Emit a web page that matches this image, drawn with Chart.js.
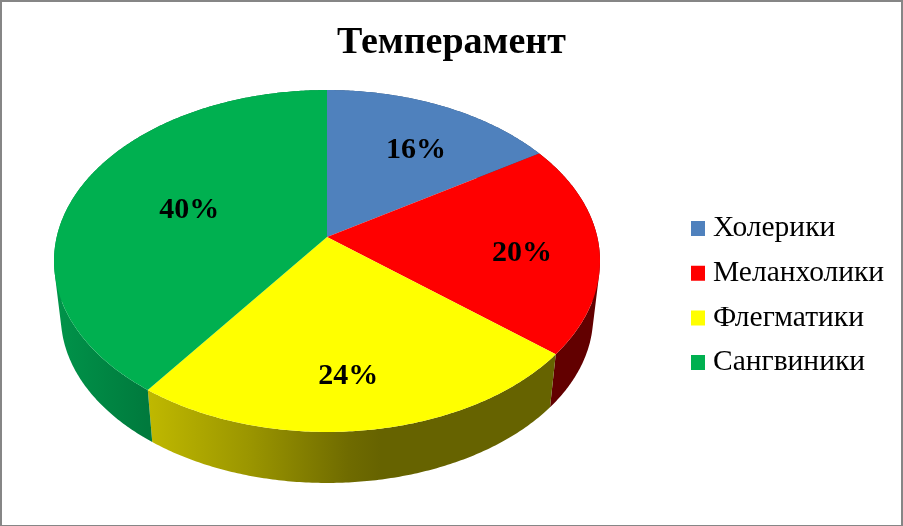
<!DOCTYPE html>
<html>
<head>
<meta charset="utf-8">
<script src="https://cdn.jsdelivr.net/npm/chart.js@4"></script>
<style>
	body { margin:0; background:#fff; }
	canvas { position:absolute; left:0; top:0; }
	.frame { position:absolute; left:0; top:0; width:903px; height:526px; box-sizing:border-box;
		border:2px solid #868686; border-bottom-width:1px; }
</style>
</head>
<body>
<canvas id="myChart" width="903" height="526"></canvas>
<div class="frame"></div>
<script>
// --------------------- data ------------------ //
const categories = ['Холерики', 'Меланхолики', 'Флегматики', 'Сангвиники'];
const shares = [16, 20, 24, 40];
const colors = ['#4F81BD', '#FF0000', '#FFFF00', '#00B050'];

// side wall shades : offset along the pie width , colour
const wallShades = [
	[[0, '#2f4d71'], [1, '#2f4d71']],
	[[0, '#620000'], [1, '#620000']],
	[[0.17, '#c0b900'], [0.36, '#9a9500'], [0.54, '#6f6b00'], [0.6, '#666300'], [1, '#666300']],
	[[0, '#00944a'], [0.17, '#007a3d']]
];

// label offset from the 0.7 radius point , px
const labelNudge = [[5, 8], [5, 9], [-5, 10], [37, 8]];

// --------------------- perspective ------------------ //
const tilt = -0.14035;		// perspective divide
const stretchX = 1.8388;	// circle radius -> screen
const stretchY = 1.14;
const wallDrop = 55.9;		// floor of the pie sits lower ...
const wallScale = 0.975;	// ... and a bit smaller

function project(el, angle, f){
	let u = Math.cos(angle) * f;
	let v = Math.sin(angle) * f;
	let w = 1 + tilt * v;
	return {
		x : el.x + el.outerRadius * stretchX * u / w,
		y : el.y + el.outerRadius * stretchY * v / w
	};
}

function arcPoints(el){
	let pts = [];
	let n = Math.ceil((el.endAngle - el.startAngle) / 0.01);
	for (let i = 0; i <= n; i++){
		pts.push(project(el, el.startAngle + (el.endAngle - el.startAngle) * i / n, 1));
	}
	return pts;
}

// quad added to the current path , always wound the same way so the nonzero fill has no holes
function addQuad(ctx, q){
	let area = 0;
	q.forEach((p, i) => {
		let n = q[(i + 1) % 4];
		area += p.x * n.y - n.x * p.y;
	});
	let pts = area < 0 ? q.slice().reverse() : q;
	pts.forEach((p, i) => i ? ctx.lineTo(p.x, p.y) : ctx.moveTo(p.x, p.y));
	ctx.closePath();
}

const pie3d = {
	id : 'pie3d',
	afterLayout(chart){
		// pie to the left , legend in its own column lower down
		let area = chart.chartArea;
		area.left = 54; area.right = 600; area.width = 546;
		let lg = chart.legend;
		let w = lg.width, h = lg.height;
		lg.left = 697.75 - lg.options.labels.padding;
		lg.right = lg.left + w;
		lg.top = 198.55;
		lg.bottom = lg.top + h;
	},
	beforeDatasetsDraw(chart){
		let ctx = chart.ctx;
		let arcs = chart.getDatasetMeta(0).data;
		let area = chart.chartArea;

		arcs.forEach((el, i) => {	// walls first , the top covers what is behind
			let top = arcPoints(el);
			let floor = top.map(p => ({
				x : el.x + (p.x - el.x) * wallScale,
				y : el.y + wallDrop + (p.y - el.y) * wallScale
			}));
			let grad = ctx.createLinearGradient(area.left, 0, area.right, 0);
			wallShades[i].forEach(s => grad.addColorStop(s[0], s[1]));
			ctx.beginPath();
			for (let k = 1; k < top.length; k++){
				addQuad(ctx, [top[k-1], top[k], floor[k], floor[k-1]]);
			}
			ctx.fillStyle = grad;
			ctx.fill();
		});

		arcs.forEach((el, i) => {
			ctx.beginPath();
			ctx.moveTo(el.x, el.y);
			arcPoints(el).forEach(p => ctx.lineTo(p.x, p.y));
			ctx.closePath();
			ctx.fillStyle = colors[i];
			ctx.fill();
		});

		let total = shares.reduce((a, b) => a + b, 0);
		ctx.fillStyle = '#000';
		ctx.font = 'bold 30px "Liberation Serif"';
		ctx.textAlign = 'center';
		ctx.textBaseline = 'middle';
		arcs.forEach((el, i) => {
			let p = project(el, (el.startAngle + el.endAngle) / 2, 0.7);
			ctx.fillText(Math.round(shares[i] / total * 100) + '%', p.x + labelNudge[i][0], p.y + labelNudge[i][1]);
		});
		return false;	// library arcs replaced by the ones above
	}
};

new Chart(document.getElementById('myChart'), {
	type : 'pie',
	data : {
		labels : categories,
		datasets : [{ data : shares, backgroundColor : colors, borderWidth : 0 }]
	},
	options : {
		responsive : false,
		animation : false,
		devicePixelRatio : 1,
		layout : { padding : { bottom : 142 } },
		plugins : {
			tooltip : { enabled : false },
			title : {
				display : true,
				text : 'Темперамент',
				color : '#000',
				font : { family : '"Liberation Serif"', size : 38, weight : 'bold' },
				padding : { top : 20, bottom : 24.4 }
			},
			legend : {
				position : 'right',
				align : 'start',
				labels : {
					color : '#000',
					font : { family : '"Liberation Serif"', size : 29.5 },
					boxWidth : 0.5,
					boxHeight : 1.5,
					padding : 15.2,
					generateLabels(chart){
						// thick outline in the fill colour : marker wider than its text gap
						return Chart.overrides.pie.plugins.legend.labels.generateLabels(chart).map(o => {
							o.strokeStyle = o.fillStyle;
							o.lineWidth = 13.5;
							return o;
						});
					}
				}
			}
		}
	},
	plugins : [pie3d]
});
</script>
</body>
</html>
